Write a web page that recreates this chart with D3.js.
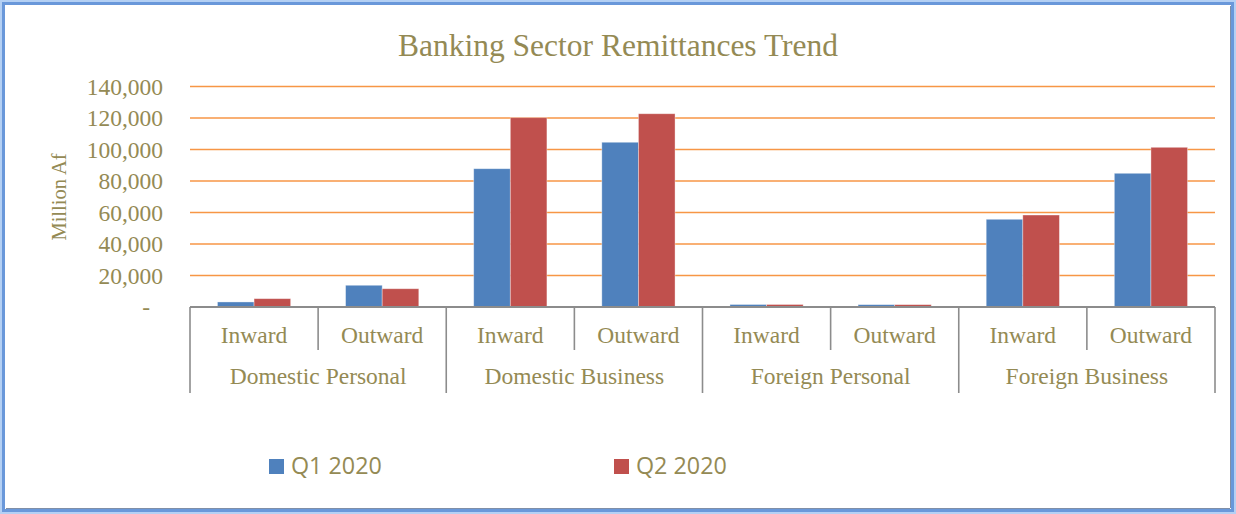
<!DOCTYPE html>
<html>
<head>
<meta charset="utf-8">
<script src="https://cdn.jsdelivr.net/npm/d3@7/dist/d3.min.js"></script>
<style>
  html, body { margin: 0; padding: 0; background: #fff; }
  svg { display: block; }
</style>
</head>
<body>
<svg id="chart" width="1236" height="514"></svg>
<script>
// Remittance volumes (million Af) by category and quarter
const groups = ["Domestic Personal", "Domestic Business", "Foreign Personal", "Foreign Business"];
const flows = ["Inward", "Outward"];
const seriesNames = ["Q1 2020", "Q2 2020"];
const q1 = [3200, 13800, 87800, 104600, 1600, 1500, 55700, 84900];
const q2 = [5300, 11600, 120200, 122700, 1600, 1500, 58400, 101400];
const yTicks = [0, 20000, 40000, 60000, 80000, 100000, 120000, 140000];

const W = 1236, H = 514;
const textColor = "#948A54";
const gridColor = "#F79646";
const axisColor = "#8C8C8C";
const colors = ["#4F81BD", "#C0504D"];
const serif = "'Liberation Serif', 'Times New Roman', serif";

const svg = d3.select("#chart");

// Frame
svg.append("rect").attr("x", 0).attr("y", 0).attr("width", W).attr("height", H).attr("fill", "#B4D0F4");
svg.append("rect").attr("x", 3.5).attr("y", 3.5).attr("width", W - 7).attr("height", H - 7)
  .attr("fill", "#fff").attr("stroke", "#6A98DA").attr("stroke-width", 3);
svg.append("line").attr("x1", 6).attr("x2", W - 6).attr("y1", H - 5.5).attr("y2", H - 5.5)
  .attr("stroke", "#7F8FA8").attr("stroke-width", 1);
svg.append("line").attr("x1", W - 5.5).attr("x2", W - 5.5).attr("y1", 6).attr("y2", H - 6)
  .attr("stroke", "#7F8FA8").attr("stroke-width", 1);

// Categories: each group split into inward / outward
const cats = [];
groups.forEach(g => flows.forEach(f => cats.push({ group: g, flow: f })));
const data = cats.map((c, i) => ({ ...c, key: i, values: [q1[i], q2[i]] }));

const plot = { left: 190, right: 1215, top: 86.5, bottom: 307 };

const x = d3.scaleBand().domain(data.map(d => d.key)).range([plot.left, plot.right]).padding(0);
const bw = x.bandwidth();
const gap = bw * 1.5 / 3.5;
const xs = d3.scaleBand().domain([0, 1]).range([gap / 2, bw - gap / 2]).padding(0);
const y = d3.scaleLinear().domain([0, 140000]).range([plot.bottom, plot.top]);

// Title
svg.append("text")
  .attr("x", 618).attr("y", 56)
  .attr("text-anchor", "middle")
  .attr("font-family", serif).attr("font-size", 31.5)
  .attr("fill", textColor)
  .text("Banking Sector Remittances Trend");

// Gridlines
svg.append("g").selectAll("line").data(yTicks.filter(t => t > 0)).join("line")
  .attr("x1", plot.left).attr("x2", plot.right)
  .attr("y1", d => y(d)).attr("y2", d => y(d))
  .attr("stroke", gridColor).attr("stroke-width", 1.6);

// Y axis labels
const fmt = d3.format(",");
const yAxis = d3.axisLeft(y).tickValues(yTicks).tickSize(0).tickPadding(0)
  .tickFormat(d => d === 0 ? "-" : fmt(d));
const yg = svg.append("g").attr("transform", "translate(163,0)").call(yAxis);
yg.select(".domain").remove();
yg.selectAll("text")
  .attr("font-family", serif).attr("font-size", 23.5)
  .attr("fill", textColor)
  .attr("dy", "0.32em");
yg.selectAll(".tick").filter(d => d === 0).select("text").attr("x", -13);

svg.append("text")
  .attr("transform", "translate(66,197) rotate(-90)")
  .attr("text-anchor", "middle")
  .attr("font-family", serif).attr("font-size", 20.5)
  .attr("fill", textColor)
  .text("Million Af");

// Bars
const catG = svg.append("g").selectAll("g").data(data).join("g")
  .attr("transform", d => `translate(${x(d.key)},0)`);
catG.selectAll("rect").data(d => d.values.map((v, i) => ({ v, i }))).join("rect")
  .attr("x", d => xs(d.i))
  .attr("width", xs.bandwidth())
  .attr("y", d => y(d.v))
  .attr("height", d => y(0) - y(d.v))
  .attr("fill", d => colors[d.i])
  .attr("stroke", "#ffffff").attr("stroke-opacity", 0.45).attr("stroke-width", 0.8);

// Category axis line and dividers
const axisG = svg.append("g");
axisG.append("line")
  .attr("x1", plot.left).attr("x2", plot.right)
  .attr("y1", y(0)).attr("y2", y(0))
  .attr("stroke", axisColor).attr("stroke-width", 2);

const bounds = d3.range(cats.length + 1);
axisG.selectAll("line.div").data(bounds).join("line")
  .attr("class", "div")
  .attr("x1", i => i < cats.length ? x(i) : plot.right)
  .attr("x2", i => i < cats.length ? x(i) : plot.right)
  .attr("y1", y(0))
  .attr("y2", i => (i % 2 === 0) ? 393 : 350)
  .attr("stroke", axisColor).attr("stroke-width", 1.6);

// Flow labels
axisG.selectAll("text.flow").data(data).join("text")
  .attr("class", "flow")
  .attr("x", d => x(d.key) + bw / 2)
  .attr("y", 342.5)
  .attr("text-anchor", "middle")
  .attr("font-family", serif).attr("font-size", 23.5)
  .attr("fill", textColor)
  .text(d => d.flow);

// Group labels
axisG.selectAll("text.group").data(groups).join("text")
  .attr("class", "group")
  .attr("x", (g, i) => x(i * 2) + bw)
  .attr("y", 384)
  .attr("text-anchor", "middle")
  .attr("font-family", serif).attr("font-size", 23.5)
  .attr("fill", textColor)
  .text(g => g);

// Legend
const legendX = [269, 614];
const leg = svg.append("g").selectAll("g").data(seriesNames).join("g")
  .attr("transform", (d, i) => `translate(${legendX[i]},459)`);
leg.append("rect").attr("width", 15).attr("height", 15).attr("fill", (d, i) => colors[i]);
leg.append("text")
  .attr("x", 22).attr("y", 15)
  .attr("font-family", "'Open Sans', 'Liberation Sans', sans-serif")
  .attr("font-size", 23.3)
  .attr("fill", textColor)
  .text(d => d);
</script>
</body>
</html>
